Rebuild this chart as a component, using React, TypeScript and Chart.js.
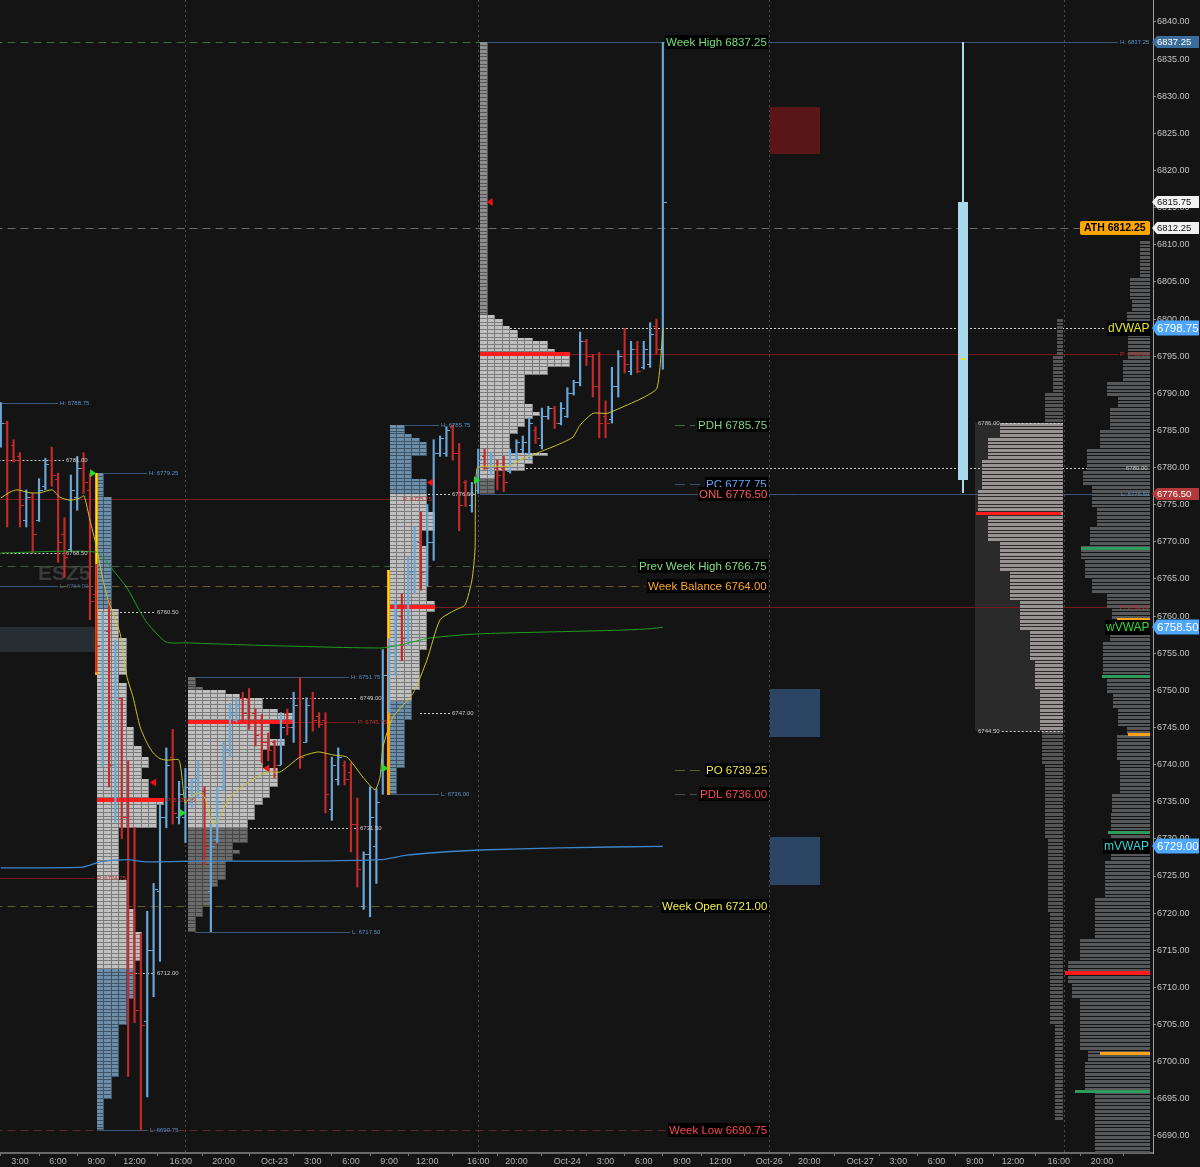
import { useEffect, useRef } from "react";
import { Chart, registerables } from "chart.js";

Chart.register(...registerables);

const FONT = '"Liberation Sans", Arial, sans-serif';
const BG = "#141414";

// ---------------- axes ----------------
const Y_MIN = 6687.7;
const Y_MAX = 6842.96;
const X_MIN = -0.13; // x unit = 30-minute bar slot
const X_MAX = 181.0;

const priceTicks = [6690, 6695, 6700, 6705, 6710, 6715, 6720, 6725, 6730, 6735, 6740, 6745, 6750, 6755, 6760, 6765, 6770, 6775, 6780, 6785, 6790, 6795, 6800, 6805, 6810, 6815, 6820, 6825, 6830, 6835, 6840];
const timeTickPos = [3, 9, 15, 21, 28.25, 35, 43, 49, 55, 61, 67, 75, 81, 89, 95, 101, 107, 113, 120.7, 127, 135, 141, 147, 153, 159, 166.2, 173];
const timeTickLabels = ["3:00", "6:00", "9:00", "12:00", "16:00", "20:00", "Oct-23", "3:00", "6:00", "9:00", "12:00", "16:00", "20:00", "Oct-24", "3:00", "6:00", "9:00", "12:00", "Oct-26", "20:00", "Oct-27", "3:00", "6:00", "9:00", "12:00", "16:00", "20:00"];
const sessionBreaks = [29, 75, 120.7, 167];

// ---------------- 30-minute OHLC bars ----------------
const barOpen = [
  6783, 6786, 6783, 6781.5, 6773, 6776, 6773, 6777.5, 6781, 6778.5,
  6771, 6769, 6776, 6780, 6777, 6763, 6745, 6758, 6740, 6749,
  6733, 6712, 6712, 6705.5, 6715, 6723, 6733, 6741, 6733, 6733,
  6735, 6738, 6736.5, 6723, 6730, 6737, 6742, 6746, 6749, 6749,
  6747, 6746, 6743, 6743, 6740, 6747, 6745, 6749, 6743, 6749,
  6746.5, 6746, 6734, 6738, 6740, 6739, 6732, 6721, 6728, 6729,
  6739.25, 6752, 6755, 6760, 6757, 6766, 6770, 6766, 6770, 6782,
  6782, 6785.5, 6782, 6778, 6775, 6777, 6781.5, 6780, 6780, 6780,
  6779.5, 6782, 6782.5, 6782, 6785, 6783, 6787, 6788, 6786, 6787,
  6790, 6791.5, 6797, 6795, 6791, 6787, 6786.5, 6791, 6795, 6793,
  6796, 6793.5, 6794, 6799, 6796,
];
const barHigh = [
  6788.75, 6786.25, 6783.75, 6782, 6777, 6776.5, 6778.5, 6781.25, 6782.75, 6779.25,
  6773.25, 6779, 6781.5, 6782, 6779.25, 6767, 6760.5, 6762.25, 6756.75, 6749,
  6740.5, 6731.5, 6717.25, 6720.25, 6724, 6734.75, 6742.25, 6744.75, 6737.75, 6739.5,
  6738, 6740.5, 6737, 6732, 6737, 6743, 6748.25, 6749, 6749.75, 6750.25,
  6747.5, 6746.75, 6744.25, 6743.25, 6747, 6747.5, 6749.75, 6751.75, 6749, 6749.75,
  6747, 6747, 6741, 6742.25, 6740.5, 6740.25, 6735.5, 6728.25, 6737, 6736.75,
  6755.5, 6757, 6762, 6763, 6768, 6772, 6774, 6775, 6783.75, 6784.25,
  6785.5, 6785.75, 6783.25, 6778.25, 6778, 6782.5, 6782.5, 6782, 6781, 6781.5,
  6782.5, 6783.75, 6784.25, 6786.75, 6785.5, 6788, 6788.25, 6788.25, 6788.75, 6790.75,
  6791.75, 6798.25, 6797.25, 6795.25, 6795.5, 6789, 6793.5, 6795.75, 6798.75, 6797,
  6797, 6797, 6799.5, 6800, 6837.25,
];
const barLow = [
  6782.75, 6772, 6780.75, 6772, 6772, 6768.5, 6772.75, 6777, 6777.5, 6767.25,
  6765.25, 6768.75, 6774.25, 6776.5, 6759.5, 6752.5, 6739.75, 6737, 6732.25, 6730,
  6698, 6705.25, 6690.75, 6695.25, 6708.75, 6713.5, 6731.5, 6732, 6732, 6729.5,
  6734.25, 6735.5, 6726.5, 6717.5, 6729.5, 6736.5, 6741, 6745.75, 6745.75, 6744.75,
  6742.5, 6740.25, 6740.5, 6738.25, 6740, 6744, 6743, 6739.5, 6743, 6744.5,
  6745, 6733.5, 6732.5, 6737.25, 6737.25, 6728.25, 6723.5, 6720.5, 6719.5, 6724,
  6736, 6747, 6752, 6754, 6756, 6763, 6763.5, 6764, 6767.5, 6781.5,
  6781.5, 6781, 6771.5, 6774.75, 6774, 6776.5, 6779.75, 6779, 6777, 6776.75,
  6779.25, 6781, 6782, 6781, 6783.25, 6782.5, 6786.5, 6785.25, 6785.75, 6786.75,
  6789.75, 6791, 6793.75, 6789.5, 6784, 6784, 6786, 6789.5, 6792.75, 6792.5,
  6792.75, 6793.25, 6793.5, 6795.25, 6793.25,
];
const barClose = [
  6786, 6781, 6781, 6775, 6776, 6771, 6777, 6780.5, 6779, 6770,
  6768, 6777, 6780, 6778, 6762, 6756, 6758, 6740, 6750, 6733,
  6712, 6707, 6705, 6715, 6723.25, 6733, 6740, 6733.5, 6736, 6737,
  6737.75, 6738.25, 6729, 6729, 6735, 6742, 6747, 6748, 6747, 6746,
  6744, 6743, 6742, 6740, 6745, 6745, 6748, 6741, 6748, 6746,
  6745.5, 6736, 6740, 6741, 6738, 6732, 6726, 6728, 6733, 6735,
  6752, 6755, 6760, 6757, 6766, 6770, 6766, 6770, 6782, 6784,
  6785, 6782, 6775, 6776.5, 6776.5, 6781, 6780, 6781.5, 6779, 6778,
  6782, 6783.5, 6783.5, 6786, 6784, 6787, 6788, 6786, 6788, 6790,
  6791.5, 6797, 6795, 6791, 6786, 6786, 6791, 6795, 6794, 6796,
  6793, 6796, 6798, 6796, 6815.75,
];

// ---------------- VWAP curves [slot, price] ----------------
const sessionVwap = [
  [0, 6775.9], [1.45, 6776.7], [2.54, 6777], [4.59, 6776.6], [6.16, 6776.6], [8.04, 6777], [9.3, 6776], [10.87, 6775.6],
  [12.44, 6775.9], [13.07, 6776.2], [14.01, 6772.9], [14.95, 6769.6], [16.05, 6764.9], [16.84, 6762.2], [18.72, 6757.7],
  [19.82, 6751.8], [20.77, 6749.1], [21.87, 6745.1], [22.97, 6742.9], [23.91, 6741.6], [25.01, 6740.8], [26.11, 6740.6],
  [28, 6740.6], [28.94, 6734.8], [29.72, 6735.6], [30.98, 6736.2], [32.08, 6735.5], [33.18, 6732.1], [33.96, 6732.3],
  [36, 6735.6], [38.67, 6737.5], [41.82, 6739], [43.86, 6739], [47, 6741], [49.83, 6741.7], [52.18, 6741.3], [54.38, 6741],
  [56.9, 6738.3], [58.78, 6736.6], [59.57, 6738.3], [60.04, 6742.4], [61.61, 6746.4], [64.75, 6749.6], [66.95, 6754.1],
  [69, 6759.5], [71.35, 6760.8], [72.92, 6761.5], [74.02, 6764.9], [74.49, 6768.9], [74.8, 6779.9], [76.85, 6780.2],
  [80, 6780.2], [81.56, 6781], [84.7, 6782.1], [87.84, 6783.2], [89.88, 6784.1], [90.98, 6785.7], [93.03, 6787.3],
  [95.23, 6787.3], [97.27, 6788], [100.88, 6789.4], [103.08, 6790.7], [104.02, 6798.75],
];
const weeklyVwap = [
  [0, 6768.5], [15.11, 6768.6], [17.62, 6766.2], [19.82, 6763.8], [21.87, 6760.6], [22.97, 6759.1], [25.95, 6756.5],
  [29.25, 6756.4], [39.15, 6756.1], [59.57, 6755.7], [62.71, 6756.1], [67.42, 6757.05], [74.96, 6757.6], [87.84, 6757.9],
  [97.27, 6758.1], [101.98, 6758.3], [104.02, 6758.5],
];
const monthlyVwap = [
  [0, 6726.1], [12.91, 6726.2], [15.58, 6726.9], [19.82, 6727.2], [22.97, 6726.9], [31.29, 6727.0], [47, 6727.0],
  [59.57, 6727.2], [63.81, 6727.8], [69, 6728.2], [75.27, 6728.5], [87.84, 6728.8], [104.02, 6729.0],
];

// ---------------- key levels ----------------
const keyLevelNames = ["Week High", "ATH", "PDH", "PC", "ONL", "Prev Week High", "Week Balance", "PO", "PDL", "Week Open", "Week Low"];
const keyLevelPrices = [6837.25, 6812.25, 6785.75, 6777.75, 6776.5, 6766.75, 6764.0, 6739.25, 6736.0, 6721.0, 6690.75];
const vwapNames = ["dVWAP", "wVWAP", "mVWAP"];
const vwapPrices = [6798.75, 6758.5, 6729.0];

// naked session references
const refPrefixes = ["H: ", "", "", "L: ", "H: ", "", "P: ", "", "L: ", "P: ", "H: ", "", "P: ", "", "L: ", "P: ", "H: ", "", "P: ", "", "L: ", "H: ", "P: ", "", "L: "];
const refPrices = [6788.75, 6781.0, 6768.5, 6764.0, 6779.25, 6760.5, 6735.25, 6712.0, 6690.75, 6724.75, 6751.75, 6749.0, 6745.75, 6731.5, 6717.5, 6775.75, 6785.75, 6776.5, 6761.25, 6747.0, 6736.0, 6837.25, 6795.25, 6780.0, 6776.5];

// ---------------- TPO profiles [top, bottom, tpoCount, kind] ----------------
const tpoRth22 = [
  [6779.25, 6776, 1, "b"], [6776, 6761, 2, "b"], [6761, 6757, 3, "g"], [6757, 6752, 4, "g"], [6752, 6751, 3, "g"],
  [6751, 6745, 4, "g"], [6745, 6742.5, 5, "g"], [6742.5, 6741, 6, "g"], [6741, 6739.5, 7, "g"], [6739.5, 6738, 6, "g"],
  [6738, 6735.5, 7, "g"], [6735.5, 6734.5, 9, "g"], [6734.5, 6731.5, 8, "g"], [6731.5, 6724.5, 3, "g"], [6724.5, 6720.5, 4, "g"],
  [6720.5, 6717.5, 5, "g"], [6717.5, 6713.5, 6, "g"], [6713.5, 6712.5, 5, "g"], [6712.5, 6708.5, 5, "b"], [6708.5, 6705, 4, "b"],
  [6705, 6698, 3, "b"], [6698, 6695, 2, "b"], [6695, 6690.75, 1, "b"],
];
const tpoEth23 = [
  [6751.75, 6750.5, 1, "d"], [6750.5, 6750, 2, "d"], [6750, 6749.5, 5, "g"], [6749.5, 6749, 7, "g"], [6749, 6747.5, 10, "g"],
  [6747.5, 6747, 12, "g"], [6747, 6745.5, 14, "g"], [6745.5, 6743.5, 11, "g"], [6743.5, 6742.5, 13, "g"], [6742.5, 6742, 11, "g"],
  [6742, 6739.5, 10, "g"], [6739.5, 6737, 12, "g"], [6737, 6735.5, 11, "g"], [6735.5, 6734.5, 10, "g"], [6734.5, 6732.5, 9, "g"],
  [6732.5, 6731.5, 8, "g"], [6731.5, 6729.5, 8, "d"], [6729.5, 6728.5, 6, "d"], [6728.5, 6728, 7, "d"], [6728, 6727, 6, "d"],
  [6727, 6724.5, 5, "d"], [6724.5, 6723.5, 4, "d"], [6723.5, 6721, 3, "d"], [6721, 6719.5, 2, "d"], [6719.5, 6717.5, 1, "d"],
];
const tpoRth23 = [
  [6785.75, 6784.5, 2, "b"], [6784.5, 6784, 3, "b"], [6784, 6783.5, 4, "b"], [6783.5, 6781.5, 5, "b"], [6781.5, 6778.5, 3, "b"],
  [6778.5, 6776.5, 5, "b"], [6776.5, 6774, 5, "g"], [6774, 6771.5, 6, "g"], [6771.5, 6769.5, 4, "g"], [6769.5, 6762, 5, "g"],
  [6762, 6760.5, 6, "g"], [6760.5, 6755.5, 5, "g"], [6755.5, 6750, 4, "g"], [6750, 6748.5, 3, "g"], [6748.5, 6746, 3, "b"],
  [6746, 6739.5, 2, "b"], [6739.5, 6736, 1, "b"],
];
const tpoEth24 = [
  [6837.25, 6800.5, 1, "m"], [6800.5, 6800, 2, "g"], [6800, 6799, 3, "g"], [6799, 6798.5, 4, "g"], [6798.5, 6797.5, 5, "g"],
  [6797.5, 6797, 7, "g"], [6797, 6796, 9, "g"], [6796, 6795.5, 10, "g"], [6795.5, 6793.5, 12, "g"], [6793.5, 6792.5, 9, "g"],
  [6792.5, 6788.5, 6, "g"], [6788.5, 6787.5, 7, "g"], [6787.5, 6787, 8, "g"], [6787, 6786.5, 7, "g"], [6786.5, 6785.5, 6, "g"],
  [6785.5, 6784.5, 5, "g"], [6784.5, 6782, 4, "g"], [6782, 6781.5, 9, "g"], [6781.5, 6780.5, 7, "g"], [6780.5, 6779.5, 6, "g"],
  [6779.5, 6778.5, 2, "g"], [6778.5, 6776.5, 2, "d"],
];
const tpoPocs = [6735.25, 6745.75, 6761.25, 6795.25];
const initialBalance = [[6779.25, 6752.0], [6766.25, 6736.0]];

// ---------------- volume profiles [top, bottom, volume] ----------------
const compositeProfile = [
  [6800, 6795, 6], [6795, 6790, 10], [6790, 6786, 18], [6786, 6784, 63], [6784, 6781, 75], [6781, 6777, 81], [6777, 6774, 85],
  [6774, 6770, 75], [6770, 6766, 63], [6766, 6762, 53], [6762, 6758, 43], [6758, 6754, 33], [6754, 6750, 28], [6750, 6744.5, 23],
  [6744.5, 6740, 21], [6740, 6730, 18], [6730, 6720, 15], [6720, 6705, 13], [6705, 6692, 8],
];
const compositePoc = 6773.75;
const compositeVA = [6786.0, 6744.5];
const weekProfile = [
  [6810.5, 6805.5, 10], [6805.5, 6802.5, 20], [6802.5, 6801, 18], [6801, 6798.5, 23], [6798.5, 6794.5, 22], [6794.5, 6791.5, 27],
  [6791.5, 6789.5, 43], [6789.5, 6788, 32], [6788, 6785, 40], [6785, 6782.5, 50], [6782.5, 6779.5, 63], [6779.5, 6777.5, 67],
  [6777.5, 6774.5, 58], [6774.5, 6772, 53], [6772, 6769.5, 60], [6769.5, 6767.5, 69], [6767.5, 6765, 65], [6765, 6763, 58],
  [6763, 6761, 43], [6761, 6759.5, 38], [6759.5, 6756.5, 40], [6756.5, 6752, 47], [6752, 6749.5, 43], [6749.5, 6747.5, 37],
  [6747.5, 6745, 32], [6745, 6744, 23], [6744, 6740.5, 33], [6740.5, 6736, 30], [6736, 6733.5, 38], [6733.5, 6727, 39],
  [6727, 6722, 45], [6722, 6716.5, 55], [6716.5, 6713.5, 70], [6713.5, 6710.5, 82], [6710.5, 6708.5, 78], [6708.5, 6701.5, 70],
  [6701.5, 6700, 62], [6700, 6696, 65], [6696, 6687.5, 55],
];
const weekMarks = [[6769.0, 69, "g"], [6759.5, 33, "o"], [6751.75, 48, "g"], [6744.0, 22, "o"], [6730.75, 42, "g"], [6712.0, 85, "r"], [6701.0, 50, "o"], [6696.0, 75, "g"]];

// ---------------- misc ----------------
const projCandle = [6778.25, 6837.25, 6776.5, 6815.75]; // o h l c
const projMid = 6794.75;
const supplyZone = [6828.6, 6822.2];
const demandZones = [[6750.2, 6743.7], [6730.2, 6723.8]];
const overnightZone = [6758.5, 6755.2];
const buyMarks = [[14.5, 6779.25], [28.6, 6733.5], [60.4, 6739.5], [74.8, 6778.3]];
const sellMarks = [[76.8, 6815.75], [23.9, 6737.6], [41.7, 6739.5], [67.4, 6778.0]];
const axisTagPrices = [6837.25, 6815.75, 6812.25, 6798.75, 6776.5, 6758.5, 6729.0];

// ---------------- drawing helpers ----------------
const COLW = 1.17; // TPO column width (slots)
const VOLK = 1 / 6.366; // slots per volume unit
const PAL: any = {
  g: { fill: "#c0c0c0", sep: "#7a7a7a" },
  d: { fill: "#6c6c6c", sep: "#454545" },
  m: { fill: "#8e8e8e", sep: "#555555" },
  b: { fill: "#6d8ea8", sep: "#3f5467" },
};

function hline(ctx: any, x0: number, x1: number, y: number, color: string, dash: number[], lw = 1) {
  ctx.save();
  ctx.strokeStyle = color;
  ctx.lineWidth = lw;
  ctx.setLineDash(dash);
  const yy = Math.round(y) + (lw % 2 ? 0.5 : 0);
  ctx.beginPath();
  ctx.moveTo(x0, yy);
  ctx.lineTo(x1, yy);
  ctx.stroke();
  ctx.restore();
}

function text(ctx: any, s: string, x: number, y: number, align: string, color: string, font: string, bg?: string, h = 14) {
  ctx.font = font;
  const w = ctx.measureText(s).width;
  const left = Math.round(align === "right" ? x - w : x);
  if (bg) {
    ctx.fillStyle = bg;
    ctx.fillRect(left - 1, Math.round(y - h / 2), Math.ceil(w) + 2, h);
  }
  ctx.fillStyle = color;
  ctx.textAlign = "left";
  ctx.textBaseline = "middle";
  ctx.fillText(s, left, Math.round(y) + 0.5);
  return { left, right: left + w };
}

function drawTPO(ctx: any, X: any, Y: any, left: number, segs: any[]) {
  for (const [top, bot, n, kind] of segs) {
    const pal = PAL[kind];
    for (let p = top; p > bot + 1e-6; p -= 0.5) {
      const p2 = Math.max(p - 0.5, bot);
      const y0 = Math.round(Y(p));
      const y1 = Math.round(Y(p2));
      for (let c = 0; c < n; c++) {
        const x0 = Math.round(X(left + c * COLW));
        const x1 = Math.round(X(left + (c + 1) * COLW));
        ctx.fillStyle = pal.sep;
        ctx.fillRect(x0, y0, x1 - x0, y1 - y0);
        ctx.fillStyle = pal.fill;
        ctx.fillRect(x0, y0, x1 - x0 - 1, Math.max(1, y1 - y0 - 1));
      }
    }
  }
}

function drawVol(ctx: any, X: any, Y: any, right: number, segs: any[], colorFn: (p: number) => string) {
  for (const [top, bot, v] of segs) {
    for (let p = top; p > bot + 1e-6; p -= 0.5) {
      const p2 = Math.max(p - 0.5, bot);
      const y0 = Math.round(Y(p));
      const y1 = Math.round(Y(p2));
      const x0 = Math.round(X(right - v * VOLK));
      const x1 = Math.round(X(right));
      ctx.fillStyle = colorFn(p);
      ctx.fillRect(x0, y0, x1 - x0, Math.max(1, y1 - y0 - 1));
    }
  }
}

const KEY_STYLE: any = {
  "Week High": { text: "#74e074", line: "#3e6e3e", from: -1 },
  ATH: { text: "#000000", line: "#6a6a6a", from: -1 },
  PDH: { text: "#7fd87f", line: "#3b6a3b", from: 105.9 },
  PC: { text: "#5fa8f5", line: "#3c5272", from: 105.9 },
  ONL: { text: "#ff5c5c", line: "#703c3c", from: 105.9 },
  "Prev Week High": { text: "#80e080", line: "#3c5c3c", from: -1 },
  "Week Balance": { text: "#ffa62b", line: "#6a5830", from: -1 },
  PO: { text: "#eee44a", line: "#5e5e30", from: 105.9 },
  PDL: { text: "#ff4f4f", line: "#4c4c4c", from: 105.9 },
  "Week Open": { text: "#f4ef4c", line: "#5a5a2a", from: -1 },
  "Week Low": { text: "#ff4747", line: "#5c2a2a", from: -1 },
};

// layout of naked refs: [lineStart, labelX, align]
const REF_LAYOUT: any[] = [
  [-1, 9.3, "l"], [-1, 10.24, "l"], [-1, 10.24, "l"], [-1, 9.3, "l"],
  [15.1, 23.28, "l"], [18.72, 24.54, "l"], [15.1, 25.9, "l"], [21.08, 24.54, "l"], [15.1, 23.44, "l"], [-1, 15.1, "l"],
  [30.51, 55.0, "l"], [39.15, 56.43, "l"], [29.6, 56.1, "l"], [39.15, 56.43, "l"], [30.51, 55.2, "l"], [-1, 63.18, "l"],
  [61.14, 69.15, "l"], [65.85, 70.88, "l"], [61.14, 180.4, "r"], [65.85, 70.88, "l"], [61.14, 69.15, "l"],
  [75.27, 180.4, "r"], [75.27, 180.4, "r"], [76.85, 180.2, "r"], [75.27, 180.4, "r"],
];

const overlay = {
  id: "overlay",
  beforeDraw(chart: any) {
    const c = chart.ctx;
    c.save();
    c.fillStyle = BG;
    c.fillRect(0, 0, chart.width, chart.height);
    c.restore();
  },
  beforeDatasetsDraw(chart: any) {
    const { ctx, chartArea: ca } = chart;
    const xs = chart.scales.x;
    const ys = chart.scales.y;
    const X = (v: number) => xs.getPixelForValue(v);
    const Y = (v: number) => ys.getPixelForValue(v);
    ctx.save();
    ctx.beginPath();
    ctx.rect(ca.left, ca.top, ca.right - ca.left, ca.bottom - ca.top);
    ctx.clip();

    // session separators
    ctx.strokeStyle = "#4c4c4c";
    ctx.lineWidth = 1;
    ctx.setLineDash([2, 3]);
    for (const k of sessionBreaks) {
      const x = Math.round(X(k)) + 0.5;
      ctx.beginPath();
      ctx.moveTo(x, ca.top);
      ctx.lineTo(x, ca.bottom);
      ctx.stroke();
    }
    ctx.setLineDash([]);

    // zones
    const zone = (k0: number, k1: number, top: number, bot: number, color: string) => {
      ctx.fillStyle = color;
      ctx.fillRect(Math.round(X(k0)), Math.round(Y(top)), Math.round(X(k1)) - Math.round(X(k0)), Math.round(Y(bot)) - Math.round(Y(top)));
    };
    zone(120.83, 128.7, supplyZone[0], supplyZone[1], "#5a1616");
    for (const dz of demandZones) zone(120.83, 128.7, dz[0], dz[1], "#2c4565");
    zone(-1, 15.1, overnightZone[0], overnightZone[1], "#262d33");

    // watermark
    ctx.font = `bold 21px ${FONT}`;
    ctx.fillStyle = "#3a3a3a";
    ctx.textBaseline = "middle";
    ctx.fillText("ESZ5", Math.round(X(5.9)), Math.round(Y(6765.6)));

    // key level dashed lines
    ctx.font = `11.5px ${FONT}`;
    keyLevelNames.forEach((name, i) => {
      const st = KEY_STYLE[name];
      const p = keyLevelPrices[i];
      const label = `${name} ${p.toFixed(2)}`;
      if (name === "ATH") {
        hline(ctx, X(-1), X(169.5), Y(p), st.line, [8, 5]);
        return;
      }
      ctx.font = `11.5px ${FONT}`;
      const w = ctx.measureText(label).width;
      const lx = X(120.36) - w - 3;
      hline(ctx, X(st.from), lx, Y(p), st.line, st.from > 0 ? [10, 5] : [8, 5]);
    });

    // composite value-area box
    const vaL = Math.round(X(153.03));
    const vaR = Math.round(X(166.86));
    ctx.fillStyle = "#2a2a2a";
    ctx.fillRect(vaL, Math.round(Y(compositeVA[0])), vaR - vaL, Math.round(Y(compositeVA[1])) - Math.round(Y(compositeVA[0])));

    // naked refs (lines)
    refPrices.forEach((p, i) => {
      const [x0, lx, al] = REF_LAYOUT[i];
      const pre = refPrefixes[i];
      const lbl = `${pre}${p.toFixed(2)}`;
      ctx.font = `6px ${FONT}`;
      const w = ctx.measureText(lbl).width;
      const end = al === "r" ? X(lx) - w - 2 : X(lx) - 2;
      const color = pre === "P: " ? "#7a1a1a" : pre === "" ? "#cfcfcf" : "#3a5878";
      hline(ctx, X(x0), end, Y(p), color, pre === "" ? [2, 2] : []);
    });
    // dVWAP dotted line
    hline(ctx, X(76.85), X(173.5), Y(vwapPrices[0]), "#d8d8d8", [2, 2]);

    // TPO profiles
    const lefts = [15.1, 29.45, 61.14, 75.35];
    const counts = [9, 14, 6, 12];
    [tpoRth22, tpoEth23, tpoRth23, tpoEth24].forEach((segs, i) => {
      drawTPO(ctx, X, Y, lefts[i], segs);
      const y0 = Math.round(Y(tpoPocs[i] + 0.25));
      const y1 = Math.round(Y(tpoPocs[i] - 0.25));
      ctx.fillStyle = "#ff1c1c";
      ctx.fillRect(Math.round(X(lefts[i])), y0, Math.round(X(lefts[i] + counts[i] * COLW)) - Math.round(X(lefts[i])), y1 - y0);
    });

    // initial balance markers
    const ibX = [15.0, 60.8];
    initialBalance.forEach((ib, i) => {
      const x = Math.round(X(ibX[i]));
      ctx.fillStyle = "#ff9f00";
      ctx.fillRect(x - 1, Math.round(Y(ib[0])), 3, Math.round(Y(ib[1]) - Y(ib[0])));
      ctx.fillStyle = "#ffe600";
      ctx.fillRect(x, Math.round(Y(ib[0])), 1, Math.round((Y(ib[1]) - Y(ib[0])) * 0.45));
    });

    // composite profile
    drawVol(ctx, X, Y, 166.86, compositeProfile, (p) => (p <= compositeVA[0] && p > compositeVA[1] ? "#9a9393" : "#555555"));
    {
      const y0 = Math.round(Y(compositePoc + 0.25));
      ctx.fillStyle = "#ff1c1c";
      ctx.fillRect(Math.round(X(153.2)), y0, Math.round(X(166.5)) - Math.round(X(153.2)), 3);
    }
    // week profile
    drawVol(ctx, X, Y, 180.52, weekProfile, () => "#575859");
    const markColor: any = { g: "#2e9a5c", o: "#ffa21a", r: "#ff1c1c" };
    for (const [p, v, k] of weekMarks as any[]) {
      const y0 = Math.round(Y(p + 0.25));
      ctx.fillStyle = markColor[k];
      ctx.fillRect(Math.round(X(180.52 - v * VOLK)), y0, Math.round(X(180.52)) - Math.round(X(180.52 - v * VOLK)), k === "r" ? 4 : 3);
    }

    // projected candle
    {
      const [o, h, l, c] = projCandle;
      const x = Math.round(X(151.2));
      ctx.fillStyle = "#a9d7ec";
      ctx.fillRect(x - 1, Math.round(Y(h)), 2, Math.round(Y(l) - Y(h)));
      ctx.fillRect(x - 5, Math.round(Y(c)), 10, Math.round(Y(o) - Y(c)));
      ctx.fillStyle = "#f0e000";
      ctx.fillRect(x - 2, Math.round(Y(projMid)), 4, 2);
    }
    ctx.restore();
  },
  afterDatasetsDraw(chart: any) {
    const { ctx, chartArea: ca } = chart;
    const xs = chart.scales.x;
    const ys = chart.scales.y;
    const X = (v: number) => xs.getPixelForValue(v);
    const Y = (v: number) => ys.getPixelForValue(v);
    ctx.save();
    ctx.beginPath();
    ctx.rect(ca.left, ca.top, ca.right - ca.left, ca.bottom - ca.top);
    ctx.clip();

    // OHLC open/close ticks
    for (let i = 0; i < barOpen.length; i++) {
      const up = barClose[i] >= barOpen[i];
      ctx.fillStyle = up ? "#6aa6d6" : "#c42a2a";
      const x = Math.round(X(i));
      ctx.fillRect(x - 3, Math.round(Y(barOpen[i])), 3, 1);
      ctx.fillRect(x + 1, Math.round(Y(barClose[i])), 3, 1);
    }

    // VWAP white dotted over the weekly VWAP start
    // triangles
    for (const [k, p] of buyMarks) {
      const x = X(k), y = Y(p);
      ctx.fillStyle = "#22e022";
      ctx.beginPath();
      ctx.moveTo(x - 3, y - 4);
      ctx.lineTo(x + 3, y);
      ctx.lineTo(x - 3, y + 4);
      ctx.closePath();
      ctx.fill();
    }
    for (const [k, p] of sellMarks) {
      const x = X(k), y = Y(p);
      ctx.fillStyle = "#ee1111";
      ctx.beginPath();
      ctx.moveTo(x + 3, y - 4);
      ctx.lineTo(x - 3, y);
      ctx.lineTo(x + 3, y + 4);
      ctx.closePath();
      ctx.fill();
    }

    // naked ref labels
    refPrices.forEach((p, i) => {
      const [, lx, al] = REF_LAYOUT[i];
      const pre = refPrefixes[i];
      const color = pre === "P: " ? "#c83030" : pre === "" ? "#cccccc" : i === 3 ? "#46678a" : "#5b8fc7";
      text(ctx, `${pre}${p.toFixed(2)}`, X(lx), Y(p), al === "r" ? "right" : "left", color, `6px ${FONT}`);
    });
    // composite VA labels
    [compositeVA[0], compositeVA[1]].forEach((p) => {
      const r = text(ctx, p.toFixed(2), X(153.5), Y(p), "left", "#cccccc", `6px ${FONT}`);
      hline(ctx, r.right + 2, X(166.86), Y(p), "#cfcfcf", [2, 2]);
    });

    // key level labels
    keyLevelNames.forEach((name, i) => {
      const st = KEY_STYLE[name];
      const p = keyLevelPrices[i];
      const label = `${name} ${p.toFixed(2)}`;
      if (name === "ATH") {
        ctx.font = `bold 10.5px ${FONT}`;
        const w = ctx.measureText(label).width;
        const r = X(180.4);
        const l = r - w - 8;
        ctx.fillStyle = "#ffa500";
        ctx.beginPath();
        ctx.roundRect(Math.round(l), Math.round(Y(p) - 7), Math.round(w + 8), 14, 2);
        ctx.fill();
        ctx.fillStyle = "#000";
        ctx.textBaseline = "middle";
        ctx.textAlign = "left";
        ctx.fillText(label, Math.round(l + 4), Math.round(Y(p)) + 0.5);
        return;
      }
      text(ctx, label, X(120.36), Y(p), "right", st.text, `11.5px ${FONT}`, "#000000", 14);
    });
    const vwapColors = ["#e6e62e", "#33dd33", "#33d4d4"];
    vwapNames.forEach((n, i) => {
      text(ctx, n, X(180.4), Y(vwapPrices[i]), "right", vwapColors[i], `12px ${FONT}`, "#000000", 15);
    });
    ctx.restore();
  },
  afterDraw(chart: any) {
    const { ctx } = chart;
    const ys = chart.scales.y;
    const Y = (v: number) => ys.getPixelForValue(v);
    const styles: any[] = [
      ["#3b6d9c", "#ffffff", 9.5],
      ["#f2f2f2", "#111111", 9.5],
      ["#f2f2f2", "#111111", 9.5],
      ["#4ea6ff", "#ffffff", 11.5],
      ["#b23a3a", "#ffffff", 9.5],
      ["#4ea6ff", "#ffffff", 11.5],
      ["#4ea6ff", "#ffffff", 11.5],
    ];
    ctx.save();
    axisTagPrices.forEach((p, i) => {
      const [bg, fg, fs] = styles[i];
      const y = Math.round(Y(p));
      const h = fs > 10 ? 15 : 12;
      const x0 = 1153;
      ctx.fillStyle = bg;
      ctx.beginPath();
      ctx.moveTo(x0 - 1, y);
      ctx.lineTo(x0 + 4, y - h / 2);
      ctx.lineTo(1199, y - h / 2);
      ctx.lineTo(1199, y + h / 2);
      ctx.lineTo(x0 + 4, y + h / 2);
      ctx.closePath();
      ctx.fill();
      ctx.font = `${fs}px ${FONT}`;
      ctx.fillStyle = fg;
      ctx.textBaseline = "middle";
      ctx.textAlign = "left";
      ctx.fillText(p.toFixed(2), x0 + 4, y + 0.5);
    });
    ctx.restore();
  },
};

export default function App() {
  const ref = useRef<HTMLCanvasElement>(null);
  useEffect(() => {
    document.body.style.margin = "0";
    document.body.style.background = BG;
    const canvas = ref.current as HTMLCanvasElement;
    const line = (data: number[][], color: string, width: number) => ({
      type: "line",
      data: data.map(([x, y]) => ({ x, y })),
      borderColor: color,
      borderWidth: width,
      pointRadius: 0,
      tension: 0.2,
      fill: false,
      order: 0,
    });
    const chart = new Chart(canvas, {
      type: "line",
      data: {
        datasets: [
          line(sessionVwap, "#c9c42c", 1),
          line(weeklyVwap, "#1f9e1f", 1),
          line(monthlyVwap, "#3f86c8", 1.3),
          {
            type: "bar",
            data: barHigh.map((h, i) => ({ x: i, y: [barLow[i], h] })),
            backgroundColor: barOpen.map((o, i) => (barClose[i] >= o ? "#6aa6d6" : "#c42a2a")),
            barThickness: 1.5,
            grouped: false,
            borderWidth: 0,
            order: 1,
          },
        ] as any,
      },
      options: {
        responsive: false,
        animation: false,
        events: [],
        layout: { padding: 0 },
        plugins: { legend: { display: false }, tooltip: { enabled: false } },
        scales: {
          x: {
            type: "linear",
            min: X_MIN,
            max: X_MAX,
            offset: false,
            afterBuildTicks: (s: any) => {
              s.ticks = timeTickPos.map((v) => ({ value: v }));
            },
            afterFit: (s: any) => {
              s.height = 14;
              s.paddingLeft = 0;
              s.paddingRight = 0;
            },
            ticks: {
              autoSkip: false,
              maxRotation: 0,
              minRotation: 0,
              padding: 0,
              color: "#b4b4b4",
              font: { family: FONT, size: 9 },
              callback: (_v: any, i: number) => timeTickLabels[i],
            },
            grid: { display: true, drawOnChartArea: false, drawTicks: true, tickLength: 3, color: "#7a7a7a" },
            border: { display: true, color: "#6a6a6a", width: 2 },
          },
          y: {
            type: "linear",
            position: "right",
            min: Y_MIN,
            max: Y_MAX,
            afterBuildTicks: (s: any) => {
              s.ticks = priceTicks.map((v) => ({ value: v }));
            },
            afterFit: (s: any) => {
              s.width = 47;
              s.paddingTop = 0;
              s.paddingBottom = 0;
            },
            ticks: {
              padding: 1,
              color: "#c4c4c4",
              font: { family: FONT, size: 9 },
              callback: (v: any) => Number(v).toFixed(2),
            },
            grid: { display: true, drawOnChartArea: false, drawTicks: true, tickLength: 3, color: "#8a8a8a" },
            border: { display: true, color: "#a0a0a0", dash: [2, 2], width: 1 },
          },
        },
      } as any,
      plugins: [overlay as any],
    });
    return () => chart.destroy();
  }, []);
  return <canvas ref={ref} width={1200} height={1167} style={{ display: "block", width: 1200, height: 1167 }} />;
}
